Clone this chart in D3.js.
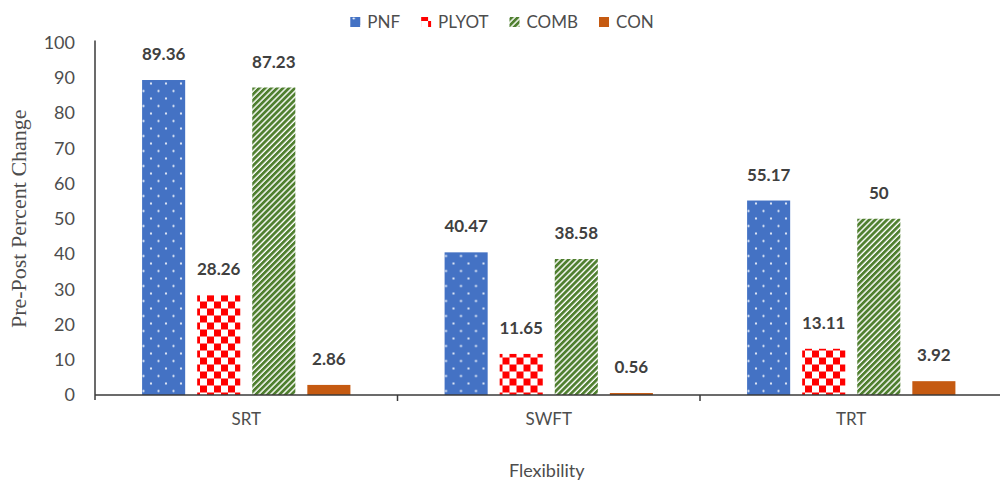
<!DOCTYPE html>
<html>
<head>
<meta charset="utf-8">
<script src="https://cdn.jsdelivr.net/npm/d3@7"></script>
<style>
    body { margin: 0; background: #fff; }
    svg { display: block; }
    .axis text { font-family: Lato, sans-serif; fill: #4d4d4d; }
</style>
</head>
<body>
<div id="chart"></div>
<script>
var categories = ['SRT', 'SWFT', 'TRT'],
    seriesNames = ['PNF', 'PLYOT', 'COMB', 'CON'],
    pnf = [89.36, 40.47, 55.17],
    plyot = [28.26, 11.65, 13.11],
    comb = [87.23, 38.58, 50],
    con = [2.86, 0.56, 3.92],
    yTicks = [0, 10, 20, 30, 40, 50, 60, 70, 80, 90, 100];

var seriesValues = [pnf, plyot, comb, con],
    fills = ['url(#p-dots)', 'url(#p-check)', 'url(#p-stripe)', '#c55a11'];

var width = 1000, height = 481,
    margin = {left: 95, top: 42.5, right: -2.5, bottom: 86},
    w = width - margin.left - margin.right,
    h = height - margin.top - margin.bottom;

var svg = d3.select('#chart').append('svg')
    .attr('width', width)
    .attr('height', height);

// patterns (excel-style fills)
var defs = svg.append('defs');

var dots = defs.append('pattern')
    .attr('id', 'p-dots')
    .attr('patternUnits', 'userSpaceOnUse')
    .attr('width', 15).attr('height', 15);
dots.append('rect').attr('width', 15).attr('height', 15).attr('fill', '#4472c4');
[[3.5, 3.5], [11, 11]].forEach(function(p) {
    dots.append('circle').attr('cx', p[0]).attr('cy', p[1]).attr('r', 1.1).attr('fill', '#fff');
});

var check = defs.append('pattern')
    .attr('id', 'p-check')
    .attr('patternUnits', 'userSpaceOnUse')
    .attr('width', 14).attr('height', 14);
check.append('rect').attr('width', 14).attr('height', 14).attr('fill', '#fff');
check.append('rect').attr('width', 7).attr('height', 7).attr('fill', '#ff0000');
check.append('rect').attr('x', 7).attr('y', 7).attr('width', 7).attr('height', 7).attr('fill', '#ff0000');

var stripe = defs.append('pattern')
    .attr('id', 'p-stripe')
    .attr('patternUnits', 'userSpaceOnUse')
    .attr('width', 4.2).attr('height', 4.2)
    .attr('patternTransform', 'rotate(45)');
stripe.append('rect').attr('width', 4.2).attr('height', 4.2).attr('fill', '#fff');
stripe.append('rect').attr('width', 2.8).attr('height', 4.2).attr('fill', '#4f7f2f');

var chart = svg.append('g')
    .attr('transform', 'translate(' + margin.left + ',' + margin.top + ')');

var x0 = d3.scaleBand().domain(categories).range([0, w]),
    x1 = d3.scaleBand().domain(seriesNames).range([0, x0.bandwidth()])
        .paddingInner(0.218).paddingOuter(0.855),
    y = d3.scaleLinear().domain([0, 100]).range([h, 0]);

// y axis
var yAxis = d3.axisLeft(y).tickValues(yTicks).tickSize(0).tickPadding(20);
chart.append('g')
    .attr('class', 'axis')
    .call(yAxis)
    .call(function(g) { g.select('.domain').remove(); })
    .selectAll('text')
    .style('font-size', '18px');

// x axis labels
var xAxis = d3.axisBottom(x0).tickSize(0).tickPadding(18);
chart.append('g')
    .attr('class', 'axis')
    .attr('transform', 'translate(0,' + h + ')')
    .call(xAxis)
    .call(function(g) { g.select('.domain').remove(); })
    .selectAll('text')
    .style('font-size', '17px');

// bars
var groups = chart.selectAll('.group')
    .data(categories)
    .enter()
    .append('g')
    .attr('class', 'group')
    .attr('transform', function(d) { return 'translate(' + x0(d) + ',0)'; });

var bars = groups.selectAll('g')
    .data(function(d, i) {
        return seriesNames.map(function(s, j) {
            return {series: s, idx: j, value: seriesValues[j][i]};
        });
    })
    .enter()
    .append('g');

bars.append('rect')
    .attr('x', function(d) { return x1(d.series); })
    .attr('y', function(d) { return y(d.value); })
    .attr('width', x1.bandwidth())
    .attr('height', function(d) { return h - y(d.value); })
    .attr('fill', function(d) { return fills[d.idx]; });

bars.append('text')
    .attr('x', function(d) { return x1(d.series) + x1.bandwidth() / 2; })
    .attr('y', function(d) { return y(d.value) - 20; })
    .attr('text-anchor', 'middle')
    .style('font-family', 'Lato, sans-serif')
    .style('font-weight', 700)
    .style('font-size', '17px')
    .style('fill', '#404040')
    .text(function(d) { return d.value; });

// axis lines
chart.append('line')
    .attr('x1', 0).attr('x2', 0)
    .attr('y1', y(100) - 2).attr('y2', h + 5)
    .attr('stroke', '#3a3a3a').attr('stroke-width', 1.5);

chart.append('line')
    .attr('x1', 0).attr('x2', w)
    .attr('y1', h).attr('y2', h)
    .attr('stroke', '#3a3a3a').attr('stroke-width', 1.5);

chart.selectAll('.xtick')
    .data(categories.slice(1))
    .enter()
    .append('line')
    .attr('class', 'xtick')
    .attr('x1', function(d) { return x0(d); })
    .attr('x2', function(d) { return x0(d); })
    .attr('y1', h).attr('y2', h + 6)
    .attr('stroke', '#3a3a3a').attr('stroke-width', 1.5);

// axis titles
svg.append('text')
    .attr('transform', 'translate(26,' + (margin.top + h / 2) + ') rotate(-90)')
    .attr('text-anchor', 'middle')
    .style('font-family', '"Liberation Serif", serif')
    .style('font-size', '22px')
    .style('fill', '#4d4d4d')
    .text('Pre-Post Percent Change');

svg.append('text')
    .attr('x', margin.left + w / 2 - 2)
    .attr('y', 477)
    .attr('text-anchor', 'middle')
    .style('font-family', 'Lato, sans-serif')
    .style('font-size', '18px')
    .style('fill', '#4d4d4d')
    .text('Flexibility');

// legend
var legend = svg.append('g').attr('class', 'legend');
var items = legend.selectAll('g')
    .data(seriesNames)
    .enter()
    .append('g');

items.append('rect')
    .attr('y', 17)
    .attr('width', 10).attr('height', 10)
    .attr('fill', function(d, i) { return fills[i]; });

items.append('text')
    .attr('x', 17)
    .attr('y', 28)
    .style('font-family', 'Lato, sans-serif')
    .style('font-size', '17px')
    .style('fill', '#4d4d4d')
    .text(function(d) { return d; });

var lx = 0;
items.each(function() {
    var g = d3.select(this);
    g.attr('transform', 'translate(' + lx + ',0)');
    lx += 17 + g.select('text').node().getComputedTextLength() + 21;
});
lx -= 21;
legend.attr('transform', 'translate(' + (502 - lx / 2) + ',0)');
</script>
</body>
</html>
